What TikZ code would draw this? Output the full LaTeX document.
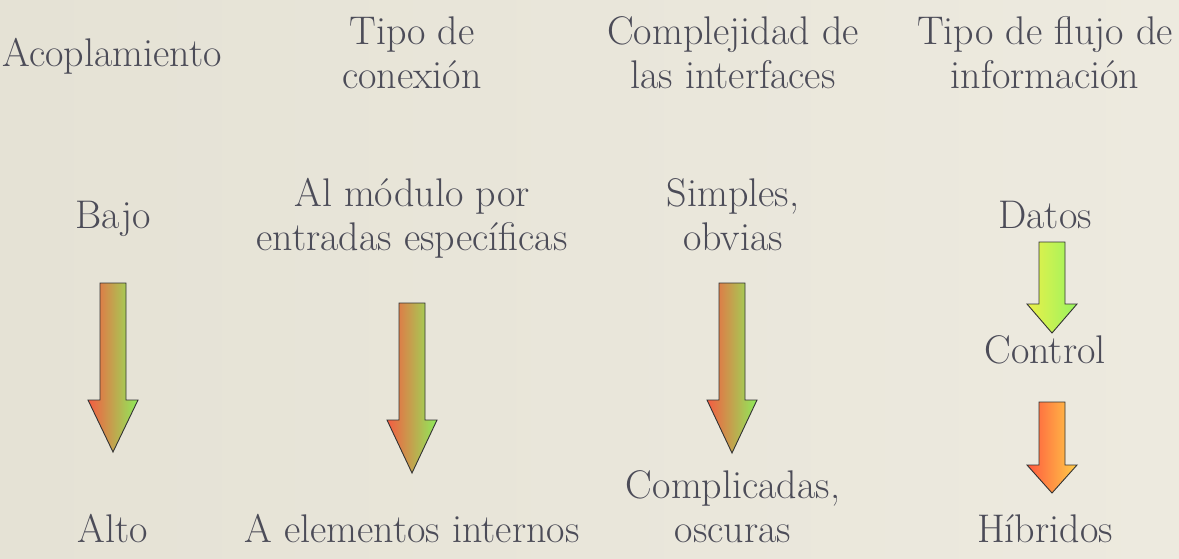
\documentclass[tikz,border=0pt]{standalone}
\usetikzlibrary{calc}
\definecolor{txt}{RGB}{76,76,88}
\definecolor{bgl}{RGB}{229,226,213}
\definecolor{bgr}{RGB}{237,234,223}
\definecolor{redA}{RGB}{245,92,66}
\definecolor{grnA}{RGB}{142,236,90}
\definecolor{yelB}{RGB}{236,240,72}
\definecolor{grnB}{RGB}{152,244,96}
\definecolor{redC}{RGB}{255,88,62}
\definecolor{orgC}{RGB}{255,206,72}
\newcommand\downarrowshape[6]{%
  % #1 center x, #2 top y, #3 head base y, #4 tip y, #5 left colour, #6 right colour
  \shade[left color=#5, right color=#6, draw=black!80, line width=0.9pt, line join=miter]
    (#1-13,#2) -- (#1+13,#2) -- (#1+13,#3) -- (#1+25,#3) -- (#1,#4) -- (#1-25,#3) -- (#1-13,#3) -- cycle;}
\begin{document}
\begin{tikzpicture}[x=1pt,y=-1pt,
  lbl/.style={text=txt, font=\fontsize{40}{44}\selectfont, align=center, inner sep=0pt, anchor=base}]
\useasboundingbox (0,0) rectangle (1179,558);
\shade[left color=bgl, right color=bgr] (0,0) rectangle (1179,558);
% headers (multi-line nodes are placed by the baseline of their last line)
\node[lbl] (h1) at (112,66) {Acoplamiento};
\node[lbl] (h2) at (412,88) {Tipo de\\conexión};
\node[lbl] (h3) at (733,88) {Complejidad de\\las interfaces};
\node[lbl] (h4) at (1045,88) {Tipo de flujo de\\información};
% upper values
\node[lbl] (a1) at (113,228) {Bajo};
\node[lbl] (a2) at (412,250) {Al módulo por\\entradas específicas};
\node[lbl] (a3) at (733,250) {Simples,\\obvias};
\node[lbl] (a4) at (1045,228) {Datos};
\node[lbl] (c4) at (1045,363) {Control};
% lower values
\node[lbl] (b1) at (113,542) {Alto};
\node[lbl] (b2) at (412,542) {A elementos internos};
\node[lbl] (b3) at (733,542) {Complicadas,\\oscuras};
\node[lbl] (b4) at (1045,542) {Híbridos};
% arrows
\downarrowshape{113}{283}{400}{452}{redA}{grnA}
\downarrowshape{412}{303}{420}{473}{redA}{grnA}
\downarrowshape{732}{283}{400}{453}{redA}{grnA}
\downarrowshape{1052}{242}{304}{333}{yelB}{grnB}
\downarrowshape{1052}{402}{465}{493}{redC}{orgC}
\end{tikzpicture}
\end{document}
